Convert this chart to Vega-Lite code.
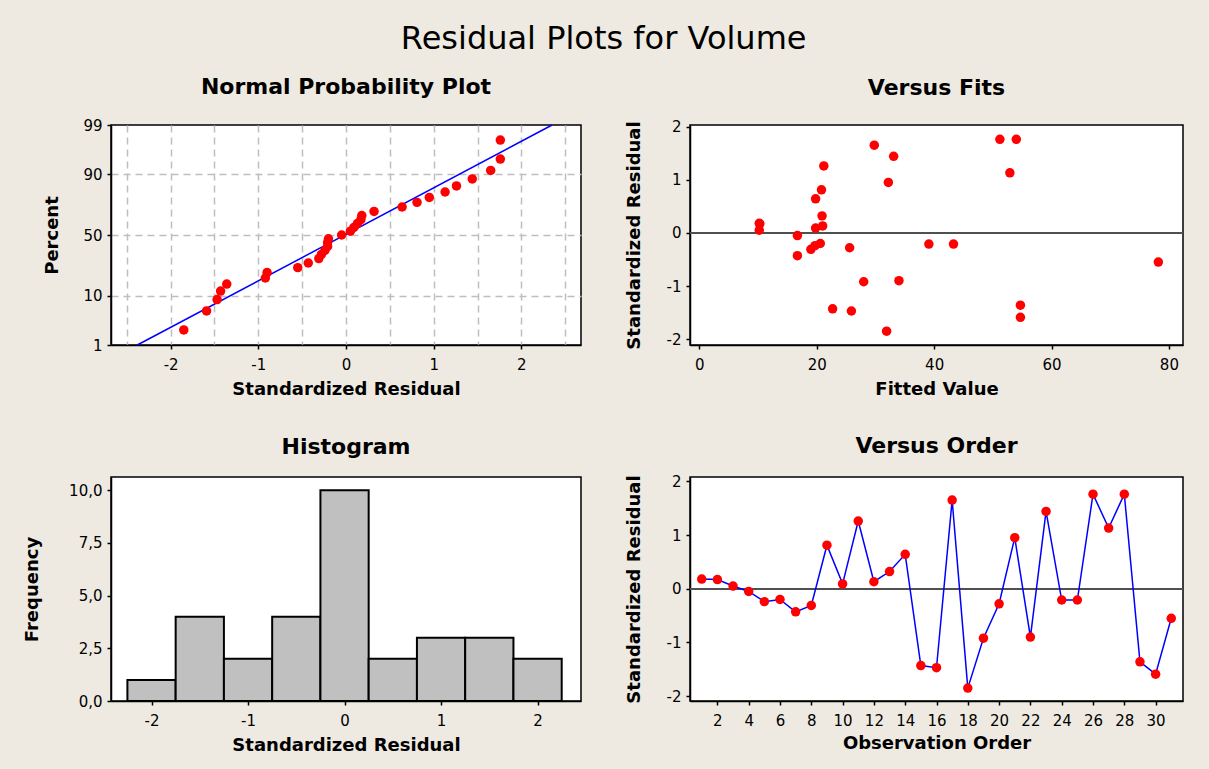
{
  "$schema": "https://vega.github.io/schema/vega-lite/v6.json",
  "background": "#EEEAE1",
  "padding": {"left": 22, "top": 23, "right": 26, "bottom": 18},
  "title": {"text": "Residual Plots for Volume", "fontSize": 32, "font": "DejaVu Sans", "fontWeight": "normal", "anchor": "middle", "offset": 19, "color": "#000000"},
  "data": {"values": [
    {"obs": 1, "fit": 10.2, "res": 0.18, "score": 0.41},
    {"obs": 2, "fit": 10.3, "res": 0.17, "score": 0.324},
    {"obs": 3, "fit": 10.2, "res": 0.05, "score": 0.08},
    {"obs": 4, "fit": 16.7, "res": -0.05, "score": 0.0},
    {"obs": 5, "fit": 19.7, "res": -0.24, "score": -0.324},
    {"obs": 6, "fit": 20.6, "res": -0.2, "score": -0.08},
    {"obs": 7, "fit": 16.7, "res": -0.43, "score": -0.592},
    {"obs": 8, "fit": 19.0, "res": -0.31, "score": -0.499},
    {"obs": 9, "fit": 20.8, "res": 0.81, "score": 0.69},
    {"obs": 10, "fit": 19.8, "res": 0.09, "score": 0.16},
    {"obs": 11, "fit": 21.2, "res": 1.26, "score": 1.038},
    {"obs": 12, "fit": 21.0, "res": 0.13, "score": 0.241},
    {"obs": 13, "fit": 20.9, "res": 0.32, "score": 0.499},
    {"obs": 14, "fit": 19.8, "res": 0.64, "score": 0.592},
    {"obs": 15, "fit": 22.7, "res": -1.43, "score": -1.186},
    {"obs": 16, "fit": 25.9, "res": -1.47, "score": -1.366},
    {"obs": 17, "fit": 29.8, "res": 1.65, "score": 1.366},
    {"obs": 18, "fit": 31.9, "res": -1.85, "score": -2.008},
    {"obs": 19, "fit": 28.0, "res": -0.92, "score": -0.909},
    {"obs": 20, "fit": 25.6, "res": -0.28, "score": -0.41},
    {"obs": 21, "fit": 32.2, "res": 0.95, "score": 0.795},
    {"obs": 22, "fit": 34.0, "res": -0.9, "score": -0.795},
    {"obs": 23, "fit": 33.1, "res": 1.44, "score": 1.186},
    {"obs": 24, "fit": 39.1, "res": -0.21, "score": -0.241},
    {"obs": 25, "fit": 43.3, "res": -0.21, "score": -0.16},
    {"obs": 26, "fit": 51.2, "res": 1.76, "score": 1.606},
    {"obs": 27, "fit": 52.9, "res": 1.13, "score": 0.909},
    {"obs": 28, "fit": 54.0, "res": 1.76, "score": 2.008},
    {"obs": 29, "fit": 54.7, "res": -1.36, "score": -1.038},
    {"obs": 30, "fit": 54.7, "res": -1.59, "score": -1.606},
    {"obs": 31, "fit": 78.2, "res": -0.55, "score": -0.69}
  ]},
  "columns": 2,
  "spacing": {"row": 132, "column": 109},
  "bounds": "flush",
  "concat": [
    {
      "width": 470,
      "height": 220,
      "title": {"text": "Normal Probability Plot", "offset": 19},
      "encoding": {
        "x": {"field": "res", "type": "quantitative",
          "scale": {"domain": [-2.68, 2.68], "nice": false, "zero": false},
          "axis": {"title": "Standardized Residual", "titlePadding": 8, "labelPadding": 8,
            "values": [-2.5, -2, -1.5, -1, -0.5, 0, 0.5, 1, 1.5, 2, 2.5],
            "labelExpr": "datum.value % 1 === 0 ? toString(datum.value) : ''",
            "tickOpacity": {"condition": {"test": "datum.value % 1 === 0", "value": 1}, "value": 0},
            "grid": true, "gridDash": [7, 5], "gridColor": "#BEBEBE", "gridWidth": 1.5}},
        "y": {"field": "score", "type": "quantitative",
          "scale": {"domain": [-2.326, 2.326], "nice": false, "zero": false},
          "axis": {"title": "Percent", "titlePadding": 21, "labelPadding": 5,
            "values": [-2.326, -1.2816, 0, 1.2816, 2.326],
            "labelExpr": "datum.value < -2 ? '1' : datum.value < -1 ? '10' : datum.value < 1 ? '50' : datum.value < 2 ? '90' : '99'",
            "grid": true, "gridDash": [7, 5], "gridColor": "#BEBEBE", "gridWidth": 1.5,
            "gridOpacity": {"condition": {"test": "abs(datum.value) > 2", "value": 0}, "value": 1}}}
      },
      "layer": [
        {
          "data": {"values": [{"res": -2.38, "score": -2.326}, {"res": 2.35, "score": 2.326}]},
          "mark": {"type": "line", "color": "#0000FF", "strokeWidth": 1.5}
        },
        {
          "mark": {"type": "circle", "size": 90, "color": "#FF0000", "opacity": 1}
        }
      ]
    },
    {
      "width": 493,
      "height": 220,
      "title": {"text": "Versus Fits", "offset": 20},
      "layer": [
        {
          "mark": {"type": "rule", "color": "#505050", "strokeWidth": 1.5},
          "encoding": {"y": {"datum": 0, "type": "quantitative"}}
        },
        {
          "mark": {"type": "circle", "size": 90, "color": "#FF0000", "opacity": 1},
          "encoding": {
            "x": {"field": "fit", "type": "quantitative",
              "scale": {"domain": [-1.6, 82.4], "nice": false, "zero": false},
              "axis": {"title": "Fitted Value", "titlePadding": 8, "labelPadding": 8, "values": [0, 20, 40, 60, 80], "labelExpr": "toString(datum.value)"}},
            "y": {"field": "res", "type": "quantitative",
              "scale": {"domain": [-2.11, 2.03], "nice": false, "zero": false},
              "axis": {"title": "Standardized Residual", "titlePadding": 23, "labelPadding": 5, "values": [-2, -1, 0, 1, 2], "labelExpr": "toString(datum.value)"}}
          }
        }
      ]
    },
    {
      "width": 470,
      "height": 224,
      "title": {"text": "Histogram", "offset": 18},
      "data": {"values": [
        {"lo": -2.25, "hi": -1.75, "n": 1},
        {"lo": -1.75, "hi": -1.25, "n": 4},
        {"lo": -1.25, "hi": -0.75, "n": 2},
        {"lo": -0.75, "hi": -0.25, "n": 4},
        {"lo": -0.25, "hi": 0.25, "n": 10},
        {"lo": 0.25, "hi": 0.75, "n": 2},
        {"lo": 0.75, "hi": 1.25, "n": 3},
        {"lo": 1.25, "hi": 1.75, "n": 3},
        {"lo": 1.75, "hi": 2.25, "n": 2}
      ]},
      "mark": {"type": "bar", "fill": "#C0C0C0", "stroke": "#000000", "strokeWidth": 2},
      "encoding": {
        "x": {"field": "lo", "type": "quantitative",
          "scale": {"domain": [-2.42, 2.45], "nice": false, "zero": false},
          "axis": {"title": "Standardized Residual", "titlePadding": 8, "labelPadding": 8, "values": [-2, -1, 0, 1, 2], "labelExpr": "toString(datum.value)"}},
        "x2": {"field": "hi"},
        "y": {"field": "n", "type": "quantitative",
          "scale": {"domain": [0, 10.63], "nice": false, "zero": true},
          "axis": {"title": "Frequency", "titlePadding": 27, "labelPadding": 5, "values": [0, 2.5, 5, 7.5, 10],
            "labelExpr": "replace(format(datum.value, '.1f'), '.', ',')"}},
        "y2": {"datum": 0}
      }
    },
    {
      "width": 493,
      "height": 224,
      "title": {"text": "Versus Order", "offset": 16},
      "encoding": {
        "x": {"field": "obs", "type": "quantitative",
          "scale": {"domain": [0.25, 31.75], "nice": false, "zero": false},
          "axis": {"title": "Observation Order", "titlePadding": 6, "labelPadding": 8, "values": [2, 4, 6, 8, 10, 12, 14, 16, 18, 20, 22, 24, 26, 28, 30]}},
        "y": {"field": "res", "type": "quantitative",
          "scale": {"domain": [-2.09, 2.08], "nice": false, "zero": false},
          "axis": {"title": "Standardized Residual", "titlePadding": 23, "labelPadding": 5, "values": [-2, -1, 0, 1, 2], "labelExpr": "toString(datum.value)"}}
      },
      "layer": [
        {
          "mark": {"type": "rule", "color": "#505050", "strokeWidth": 1.5},
          "encoding": {"y": {"datum": 0, "type": "quantitative"}, "x": null}
        },
        {
          "mark": {"type": "line", "color": "#0000FF", "strokeWidth": 1.5}
        },
        {
          "mark": {"type": "circle", "size": 90, "color": "#FF0000", "opacity": 1}
        }
      ]
    }
  ],
  "config": {
    "font": "DejaVu Sans",
    "view": {"stroke": "#000000", "strokeWidth": 1.5, "fill": "#FFFFFF"},
    "axis": {
      "labelFont": "DejaVu Sans", "labelFontSize": 15, "labelColor": "#000000",
      "titleFont": "DejaVu Sans", "titleFontSize": 18, "titleFontWeight": "bold", "titleColor": "#000000",
      "domainColor": "#000000", "domainWidth": 1.5, "tickColor": "#000000", "tickSize": 4, "tickWidth": 1.5,
      "grid": false, "labelPadding": 3, "labelFlush": false, "labelOverlap": false
    },
    "title": {"font": "DejaVu Sans", "fontSize": 22, "fontWeight": "bold", "color": "#000000", "anchor": "middle"}
  }
}
